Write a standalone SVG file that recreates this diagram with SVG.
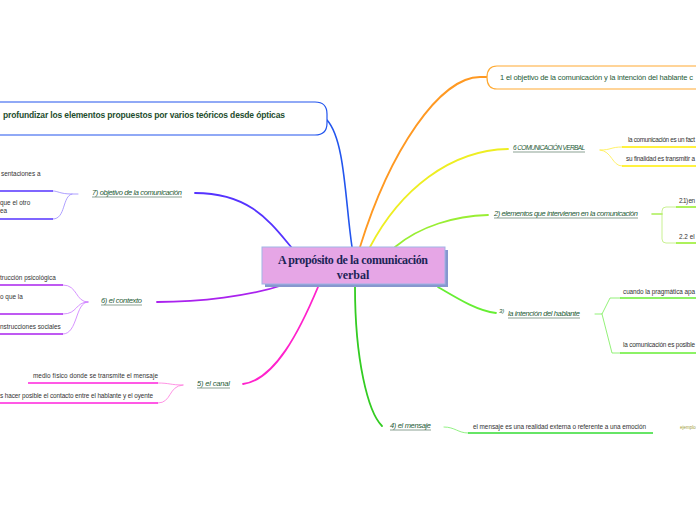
<svg xmlns="http://www.w3.org/2000/svg" width="696" height="520" viewBox="0 0 696 520">
<style>
.hand{font-family:"Liberation Sans",Arial,sans-serif;font-style:italic;font-weight:normal;font-size:7.5px;fill:#1e5a36}
.ul{stroke:#5a7a66;stroke-width:0.7}
.sub{font-family:"Liberation Sans",Arial,sans-serif;font-size:6.4px;fill:#333}
.c{fill:none;stroke-linecap:round}
</style>
<rect width="696" height="520" fill="#fff"/>
<g id="connectors">
<path class="c" d="M327,120 C345,140 345,200 352,247" stroke="#2255ee" stroke-width="1.6"/>
<path class="c" d="M195,193 C250,193 270,222 292,248" stroke="#5533ff" stroke-width="1.8"/>
<path class="c" d="M157,302 C200,302 250,296 283,285" stroke="#aa22ee" stroke-width="1.8"/>
<path class="c" d="M243,384 C275,380 300,330 318,287" stroke="#ff22cc" stroke-width="1.8"/>
<path class="c" d="M355,287 C355,360 368,412 382,426" stroke="#33cc22" stroke-width="1.8"/>
<path class="c" d="M438,287 C460,300 478,311 496,313" stroke="#66ee33" stroke-width="1.8"/>
<path class="c" d="M395,247 C420,226 455,216 488,215" stroke="#99ee33" stroke-width="1.8"/>
<path class="c" d="M370,247 C400,190 450,150 508,149" stroke="#eeee22" stroke-width="1.8"/>
<path class="c" d="M360,247 C390,150 440,77 480,77 L487,77" stroke="#ff9922" stroke-width="1.8"/>
<path class="c" d="M78,194 L72,194 C60,194 58,191 53,191" stroke="#9988ff" stroke-width="0.8"/>
<path class="c" d="M72,194 C62,196 66,219 53,219" stroke="#9988ff" stroke-width="0.8"/>
<line x1="0" y1="191" x2="53" y2="191" stroke="#5533ff" stroke-width="1.6"/>
<line x1="0" y1="219" x2="53" y2="219" stroke="#5533ff" stroke-width="1.6"/>
<path class="c" d="M88,302 C75,302 78,285 63,285" stroke="#cc77ff" stroke-width="0.8"/>
<path class="c" d="M88,302 C75,302 78,314 63,314" stroke="#cc77ff" stroke-width="0.8"/>
<path class="c" d="M88,302 C75,302 78,334 63,334" stroke="#cc77ff" stroke-width="0.8"/>
<line x1="0" y1="285" x2="63" y2="285" stroke="#aa22ee" stroke-width="1.6"/>
<line x1="0" y1="314" x2="63" y2="314" stroke="#aa22ee" stroke-width="1.6"/>
<line x1="0" y1="334" x2="63" y2="334" stroke="#aa22ee" stroke-width="1.6"/>
<path class="c" d="M183,385 C170,385 170,383 158,383" stroke="#ff77dd" stroke-width="0.8"/>
<path class="c" d="M183,385 C168,386 172,403 158,403" stroke="#ff77dd" stroke-width="0.8"/>
<line x1="28" y1="383" x2="158" y2="383" stroke="#ff22dd" stroke-width="1.6"/>
<line x1="0" y1="403" x2="158" y2="403" stroke="#ff22dd" stroke-width="1.6"/>
<path class="c" d="M600,150 C612,150 610,147 622,147" stroke="#ffee44" stroke-width="0.8"/>
<path class="c" d="M600,150 C612,151 612,166 622,166" stroke="#ffee44" stroke-width="0.8"/>
<line x1="622" y1="147" x2="696" y2="147" stroke="#ffee00" stroke-width="1.6"/>
<line x1="622" y1="166" x2="696" y2="166" stroke="#ffee00" stroke-width="1.6"/>
<path class="c" d="M652,214 L662,214" stroke="#aaee55" stroke-width="1.6"/>
<path class="c" d="M676,207 L666,207 Q662,207 662,211 L662,239 Q662,243 666,243 L676,243" stroke="#bbee77" stroke-width="0.8"/>
<line x1="676" y1="207" x2="696" y2="207" stroke="#99ee33" stroke-width="1.6"/>
<line x1="676" y1="243" x2="696" y2="243" stroke="#99ee33" stroke-width="1.6"/>
<path class="c" d="M595,314 L602,314 L610,298 L620,298" stroke="#77ee55" stroke-width="0.8"/>
<path class="c" d="M602,314 L612,353 L620,353" stroke="#77ee55" stroke-width="0.8"/>
<line x1="620" y1="298" x2="696" y2="298" stroke="#66ee33" stroke-width="1.6"/>
<line x1="620" y1="353" x2="696" y2="353" stroke="#66ee33" stroke-width="1.6"/>
<path class="c" d="M444,427 C455,427 458,433 468,433" stroke="#77ee66" stroke-width="0.8"/>
<line x1="468" y1="433" x2="653" y2="433" stroke="#33dd33" stroke-width="1.6"/>
</g>
<g id="center">
<rect x="265" y="250" width="183" height="37" fill="#8797cf"/>
<rect x="262" y="247" width="183" height="37" fill="#e6a6e6" stroke="#9fb5e6" stroke-width="1"/>
<text x="353" y="264" text-anchor="middle" font-family="Liberation Serif,serif" font-weight="bold" font-size="12" fill="#1c2456" textLength="150">A propósito de la comunicación</text>
<text x="353" y="279" text-anchor="middle" font-family="Liberation Serif,serif" font-weight="bold" font-size="12" fill="#1c2456">verbal</text>
</g>
<g id="n-profundizar">
<path d="M-10,102 L315,102 Q327,102 327,114 L327,123 Q327,135 315,135 L-10,135" fill="#fff" stroke="#2255ee" stroke-width="1.2"/>
<text x="3" y="118" font-family="Liberation Sans,Arial,sans-serif" font-weight="bold" font-size="8.5" fill="#1e4d2e" textLength="282">profundizar los elementos propuestos por varios teóricos desde ópticas</text>
</g>
<g id="n-1">
<path d="M700,66 L497,66 Q487,66 487,77.5 Q487,89 497,89 L700,89" fill="#fff" stroke="#ffaa33" stroke-width="1.2"/>
<text x="500" y="80" font-family="Liberation Sans,Arial,sans-serif" font-size="7.5" fill="#1e5a36" textLength="193">1 el objetivo de la comunicación y la intención del hablante c</text>
</g>
<g id="n-verbal">
<text x="513" y="150" class="hand" style="font-size:6.5px" textLength="72">6 COMUNICACIÓN VERBAL</text>
<line class="ul" x1="513" y1="152" x2="585" y2="152"/>
<text x="628" y="142" class="sub" textLength="67">la comunicación es un fact</text>
<text x="626" y="161" class="sub" textLength="69">su finalidad es transmitir a</text>
</g>
<g id="n-2">
<text x="494" y="216" class="hand" textLength="144">2) elementos que intervienen en la comunicación</text>
<line class="ul" x1="494" y1="218" x2="638" y2="218"/>
<text x="679" y="203" class="sub" textLength="16">2.1) en</text>
<text x="679" y="239" class="sub">2.2 el</text>
</g>
<g id="n-3">
<text x="499" y="313" class="hand" style="font-size:6px">3)</text>
<text x="508" y="316" class="hand" textLength="72">la intención del hablante</text>
<line class="ul" x1="508" y1="318" x2="580" y2="318"/>
<text x="623" y="294" class="sub" textLength="72">cuando la pragmática apa</text>
<text x="623" y="347" class="sub" textLength="72">la comunicación es posible</text>
</g>
<g id="n-4">
<text x="390" y="428" class="hand" textLength="41">4) el mensaje</text>
<line class="ul" x1="390" y1="430" x2="431" y2="430"/>
<text x="473" y="429" class="sub" textLength="173">el mensaje es una realidad externa o referente a una emoción</text>
<text x="680" y="429" font-family="Liberation Sans,Arial,sans-serif" font-size="4.5" fill="#a0a040">ejemplo</text>
</g>
<g id="n-5">
<text x="197" y="386" class="hand" textLength="33">5) el canal</text>
<line class="ul" x1="197" y1="388" x2="230" y2="388"/>
<text x="33" y="378" class="sub" textLength="125">medio físico donde se transmite el mensaje</text>
<text x="0" y="398" class="sub" textLength="153">s hacer posible el contacto entre el hablante y el oyente</text>
</g>
<g id="n-6">
<text x="101" y="303" class="hand" textLength="41">6) el contexto</text>
<line class="ul" x1="101" y1="305" x2="142" y2="305"/>
<text x="0" y="280" class="sub">trucción psicológica</text>
<text x="0" y="299" class="sub">o que la</text>
<text x="0" y="329" class="sub">nstrucciones sociales</text>
</g>
<g id="n-7">
<text x="92" y="195" class="hand" textLength="90">7) objetivo de la comunicación</text>
<line class="ul" x1="92" y1="197" x2="182" y2="197"/>
<text x="1" y="176" class="sub">sentaciones a</text>
<text x="0" y="205" class="sub">que el otro</text>
<text x="0" y="213" class="sub">ea</text>
</g>
</svg>
